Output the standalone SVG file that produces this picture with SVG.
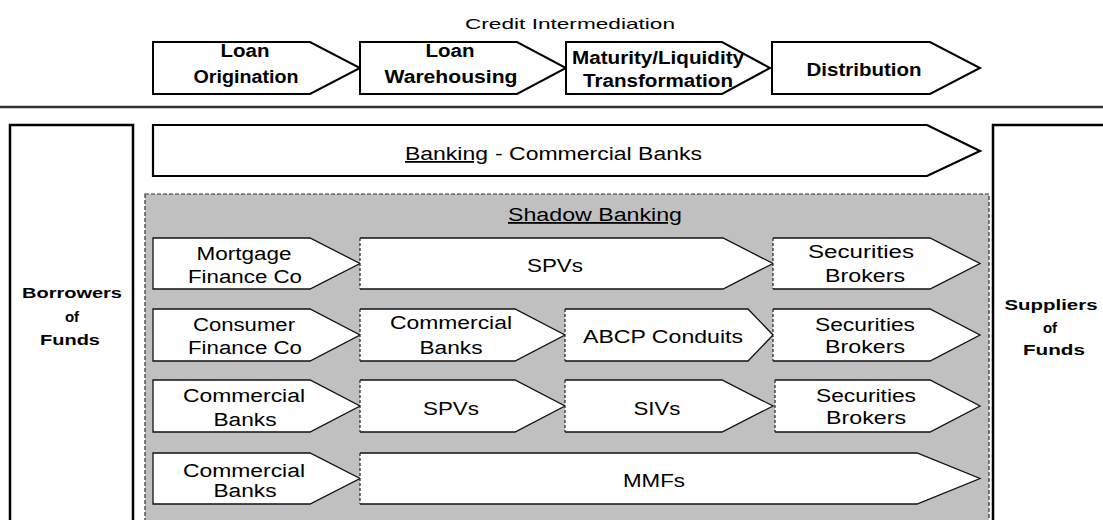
<svg xmlns="http://www.w3.org/2000/svg" width="1103" height="520" viewBox="0 0 1103 520">
<style>
.t{font-family:"Liberation Sans",Arial,Helvetica,sans-serif;fill:#000;text-anchor:middle}
.s{text-anchor:start}
.b{font-weight:bold}
.f18{font-size:18px}
.f15{font-size:15px}
.hdr{fill:#fff;stroke:#000;stroke-width:2;stroke-linejoin:miter}
.big{fill:#fff;stroke:#000;stroke-width:2.2}
.row{fill:#fff;stroke:#111;stroke-width:1.3}
.rowo{fill:none;stroke:#111;stroke-width:1.3}
.dl{stroke:#222;stroke-width:1.2;stroke-dasharray:3 2;fill:none}
.side{fill:#fff;stroke:#000;stroke-width:2.5}
.u{text-decoration:underline}
</style>
<rect width="1103" height="520" fill="#fff"/>

<g id="title">
<text class="t f15" x="570" y="29" textLength="210" lengthAdjust="spacingAndGlyphs">Credit Intermediation</text>
</g>

<g id="loan-origination">
<path class="hdr" d="M153,42 H310 L360,68 L310,94 H153 Z"/>
<text class="t b f18" x="245" y="57" textLength="49" lengthAdjust="spacingAndGlyphs">Loan</text>
<text class="t b f18" x="246" y="83" textLength="105" lengthAdjust="spacingAndGlyphs">Origination</text>
</g>
<g id="loan-warehousing">
<path class="hdr" d="M360,42 H517 L566,68 L517,94 H360 Z"/>
<text class="t b f18" x="450" y="57" textLength="49" lengthAdjust="spacingAndGlyphs">Loan</text>
<text class="t b f18" x="451" y="83" textLength="133" lengthAdjust="spacingAndGlyphs">Warehousing</text>
</g>
<g id="maturity-liquidity">
<path class="hdr" d="M566,42 H722 L770,68 L722,94 H566 Z"/>
<text class="t b f18" x="658" y="64" textLength="172" lengthAdjust="spacingAndGlyphs">Maturity/Liquidity</text>
<text class="t b f18" x="658" y="87" textLength="150" lengthAdjust="spacingAndGlyphs">Transformation</text>
</g>
<g id="distribution">
<path class="hdr" d="M772,42 H930 L980,68 L930,94 H772 Z"/>
<text class="t b f18" x="864" y="76" textLength="115" lengthAdjust="spacingAndGlyphs">Distribution</text>
</g>

<line x1="0" y1="107" x2="1103" y2="107" stroke="#333" stroke-width="2.5"/>

<g id="borrowers">
<rect class="side" x="10" y="125" width="123" height="420"/>
<text class="t b f15" x="72" y="298" textLength="100" lengthAdjust="spacingAndGlyphs">Borrowers</text>
<text class="t b f15" x="72" y="322">of</text>
<text class="t b f15" x="70" y="345" textLength="60" lengthAdjust="spacingAndGlyphs">Funds</text>
</g>

<g id="suppliers">
<rect class="side" x="993" y="125" width="130" height="420"/>
<text class="t b f15" x="1051" y="310" textLength="93" lengthAdjust="spacingAndGlyphs">Suppliers</text>
<text class="t b f15" x="1050" y="333">of</text>
<text class="t b f15" x="1054" y="355" textLength="62" lengthAdjust="spacingAndGlyphs">Funds</text>
</g>

<g id="banking">
<path class="big" d="M153,125 H927 L980,151 L927,176 H153 Z"/>
<text class="t s f18 u" x="405" y="160" textLength="83" lengthAdjust="spacingAndGlyphs">Banking</text>
<text class="t s f18" x="495" y="160" textLength="207" lengthAdjust="spacingAndGlyphs">- Commercial Banks</text>
</g>

<g id="shadow-banking">
<rect x="145" y="194" width="844" height="400" fill="#c0c0c0" stroke="#333" stroke-width="1.2" stroke-dasharray="4 2"/>
<text class="t f18 u" x="595" y="221" textLength="174" lengthAdjust="spacingAndGlyphs">Shadow Banking</text>
</g>

<!-- Row 1 -->
<g id="r1-mortgage">
<path class="row" d="M153,238 H310 L360,263.5 L310,289 H153 Z"/>
<text class="t f18" x="244" y="260" textLength="95" lengthAdjust="spacingAndGlyphs">Mortgage</text>
<text class="t f18" x="245" y="283" textLength="114" lengthAdjust="spacingAndGlyphs">Finance Co</text>
</g>
<g id="r1-spvs">
<path d="M360,238 H723 L773,263.5 L723,289 H360 Z" fill="#fff"/>
<path class="rowo" d="M360,238 H723 L773,263.5 L723,289 H360"/>
<line class="dl" x1="360" y1="238" x2="360" y2="289"/>
<text class="t f18" x="555" y="272" textLength="56" lengthAdjust="spacingAndGlyphs">SPVs</text>
</g>
<g id="r1-brokers">
<path d="M773,238 H930 L980,263.5 L930,289 H773 Z" fill="#fff"/>
<path class="rowo" d="M773,238 H930 L980,263.5 L930,289 H773"/>
<line class="dl" x1="773" y1="238" x2="773" y2="289"/>
<text class="t f18" x="861" y="258" textLength="106" lengthAdjust="spacingAndGlyphs">Securities</text>
<text class="t f18" x="865" y="282" textLength="80" lengthAdjust="spacingAndGlyphs">Brokers</text>
</g>

<!-- Row 2 -->
<g id="r2-consumer">
<path class="row" d="M153,309 H310 L360,335 L310,361 H153 Z"/>
<text class="t f18" x="244" y="331" textLength="102" lengthAdjust="spacingAndGlyphs">Consumer</text>
<text class="t f18" x="245" y="354" textLength="114" lengthAdjust="spacingAndGlyphs">Finance Co</text>
</g>
<g id="r2-commercial">
<path d="M360,309 H515 L565,335 L515,361 H360 Z" fill="#fff"/>
<path class="rowo" d="M360,309 H515 L565,335 L515,361 H360"/>
<line class="dl" x1="360" y1="309" x2="360" y2="361"/>
<text class="t f18" x="451" y="329" textLength="122" lengthAdjust="spacingAndGlyphs">Commercial</text>
<text class="t f18" x="451" y="354" textLength="63" lengthAdjust="spacingAndGlyphs">Banks</text>
</g>
<g id="r2-abcp">
<path d="M565,309 H748 L773,335 L748,361 H565 Z" fill="#fff"/>
<path class="rowo" d="M565,309 H748 L773,335 L748,361 H565"/>
<line class="dl" x1="565" y1="309" x2="565" y2="361"/>
<text class="t f18" x="663" y="343" textLength="160" lengthAdjust="spacingAndGlyphs">ABCP Conduits</text>
</g>
<g id="r2-brokers">
<path d="M773,309 H930 L980,335 L930,361 H773 Z" fill="#fff"/>
<path class="rowo" d="M773,309 H930 L980,335 L930,361 H773"/>
<line class="dl" x1="773" y1="309" x2="773" y2="361"/>
<text class="t f18" x="865" y="331" textLength="100" lengthAdjust="spacingAndGlyphs">Securities</text>
<text class="t f18" x="865" y="353" textLength="80" lengthAdjust="spacingAndGlyphs">Brokers</text>
</g>

<!-- Row 3 -->
<g id="r3-commercial">
<path class="row" d="M153,380 H310 L360,406 L310,432 H153 Z"/>
<text class="t f18" x="244" y="402" textLength="122" lengthAdjust="spacingAndGlyphs">Commercial</text>
<text class="t f18" x="245" y="426" textLength="63" lengthAdjust="spacingAndGlyphs">Banks</text>
</g>
<g id="r3-spvs">
<path d="M360,380 H515 L565,406 L515,432 H360 Z" fill="#fff"/>
<path class="rowo" d="M360,380 H515 L565,406 L515,432 H360"/>
<line class="dl" x1="360" y1="380" x2="360" y2="432"/>
<text class="t f18" x="451" y="415" textLength="56" lengthAdjust="spacingAndGlyphs">SPVs</text>
</g>
<g id="r3-sivs">
<path d="M565,380 H722 L773,406 L722,432 H565 Z" fill="#fff"/>
<path class="rowo" d="M565,380 H722 L773,406 L722,432 H565"/>
<line class="dl" x1="565" y1="380" x2="565" y2="432"/>
<text class="t f18" x="657" y="415" textLength="47" lengthAdjust="spacingAndGlyphs">SIVs</text>
</g>
<g id="r3-brokers">
<path d="M775,380 H930 L980,406 L930,432 H775 Z" fill="#fff"/>
<path class="rowo" d="M775,380 H930 L980,406 L930,432 H775"/>
<line class="dl" x1="775" y1="380" x2="775" y2="432"/>
<text class="t f18" x="866" y="402" textLength="100" lengthAdjust="spacingAndGlyphs">Securities</text>
<text class="t f18" x="866" y="424" textLength="80" lengthAdjust="spacingAndGlyphs">Brokers</text>
</g>

<!-- Row 4 -->
<g id="r4-commercial">
<path class="row" d="M153,453 H310 L360,478.5 L310,504 H153 Z"/>
<text class="t f18" x="244" y="477" textLength="122" lengthAdjust="spacingAndGlyphs">Commercial</text>
<text class="t f18" x="245" y="497" textLength="63" lengthAdjust="spacingAndGlyphs">Banks</text>
</g>
<g id="r4-mmfs">
<path d="M360,453 H917 L980,478.5 L917,504 H360 Z" fill="#fff"/>
<path class="rowo" d="M360,453 H917 L980,478.5 L917,504 H360"/>
<line class="dl" x1="360" y1="453" x2="360" y2="504"/>
<text class="t f18" x="654" y="487" textLength="62" lengthAdjust="spacingAndGlyphs">MMFs</text>
</g>

<g id="connectors"></g>
</svg>
